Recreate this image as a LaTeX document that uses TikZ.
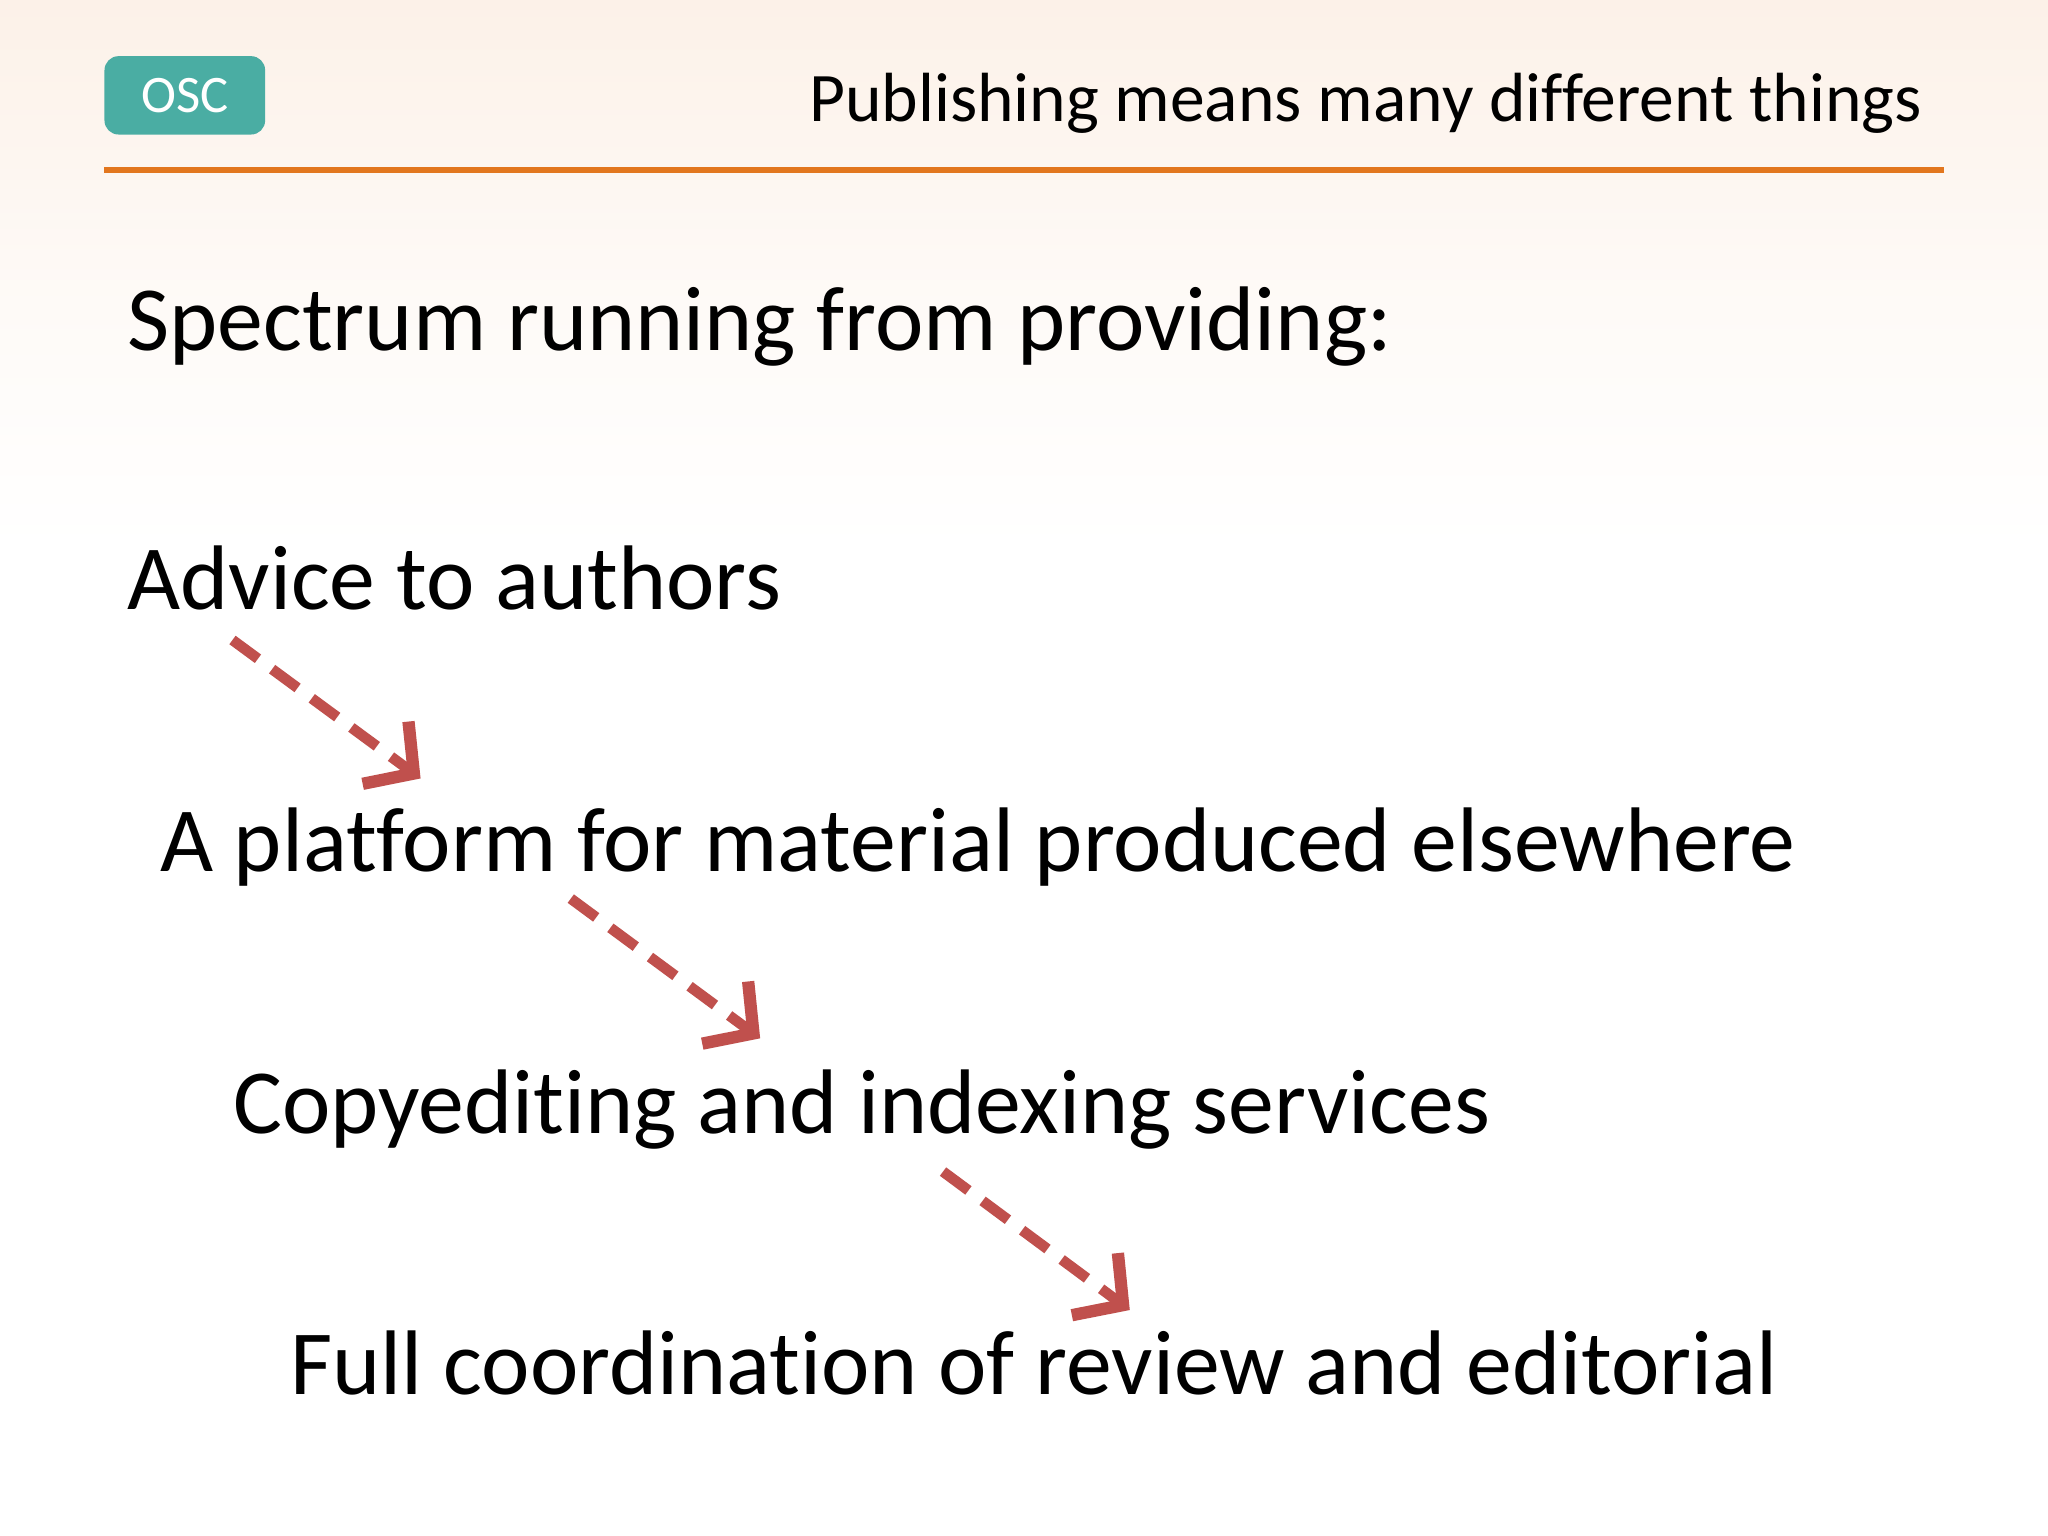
\documentclass[tikz,border=0pt]{standalone}
\usepackage{fontspec}
\setmainfont{Carlito}[Ligatures={NoCommon}]
\usetikzlibrary{arrows.meta}
\definecolor{teal1}{HTML}{4AADA3}
\definecolor{orng}{HTML}{E2761E}
\definecolor{arr}{HTML}{C0504D}
\definecolor{peach}{HTML}{FCF1E8}
\tikzset{
  body/.style={anchor=base west, inner sep=0pt, font=\fontsize{26.1}{30}\selectfont},
  flow/.style={arr, line width=3pt, dash pattern=on 9pt off 5pt, -{Straight Barb[length=10pt, width=22pt, line width=3.5pt]}}
}
\begin{document}
\begin{tikzpicture}[x=0.013061cm, y=-0.013061cm]
\useasboundingbox (0,0) rectangle (1568,1176);
\shade[top color=peach, bottom color=white, middle color=white!60!peach] (0,0) rectangle (1568,420);
\fill[white] (0,420) rectangle (1568,1176);
\fill[teal1, rounded corners=4pt] (80,43) rectangle (203,103);
\node[text=white, font=\fontsize{15}{18}\selectfont] (osct) at (141.5,73) {OSC};
\node[anchor=base east, inner sep=0pt, font=\fontsize{19.8}{22}\selectfont] (title) at (1472,93) {Publishing means many different things};
\draw[orng, line width=1.6pt] (80,130) -- (1488,130);
\node[body] (s) at (97,268) {Spectrum running from providing:};
\node[body] (a) at (97,467) {Advice to authors};
\node[body] (b) at (122,667) {A platform for material produced elsewhere};
\node[body] (c) at (178,868) {Copyediting and indexing services};
\node[body] (d) at (222,1068) {Full coordination of review and editorial};
\coordinate (a1) at (178,490); \coordinate (a2) at (322,596);
\coordinate (b1) at (437,688); \coordinate (b2) at (582,795);
\coordinate (c1) at (722,897); \coordinate (c2) at (865,1003);
\draw[flow] (a1) -- (a2);
\draw[flow] (b1) -- (b2);
\draw[flow] (c1) -- (c2);
\end{tikzpicture}
\end{document}
